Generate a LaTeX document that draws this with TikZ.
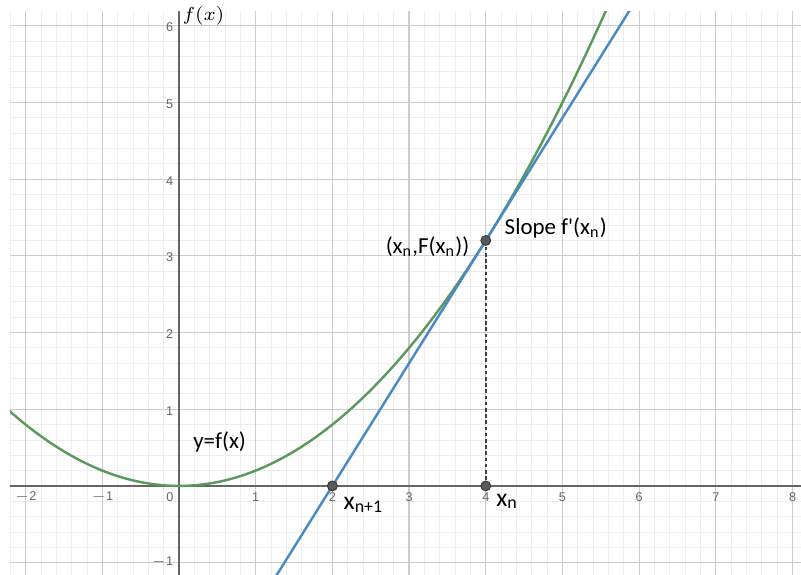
\documentclass[tikz,border=0pt]{standalone}
\usepackage{fontspec}
\setmainfont{Carlito}
\newfontfamily\tickfont{Liberation Sans}
\definecolor{curvegreen}{RGB}{92,152,92}
\definecolor{tanblue}{RGB}{74,137,200}
\begin{document}
\begin{tikzpicture}[x=1cm,y=1cm,
  minorgrid/.style={draw=black!7, line width=0.3pt},
  majorgrid/.style={draw=black!20, line width=0.45pt},
  axisline/.style={draw=black!60, line width=0.55pt},
  curve/.style={line width=0.9pt},
  ticklbl/.style={font=\tickfont\fontsize{4.7}{5}\selectfont, text=black!60, inner sep=0pt},
  lbl/.style={font=\fontsize{8.5}{10}\selectfont, inner sep=0pt},
  biglbl/.style={font=\fontsize{9.5}{11}\selectfont, inner sep=0pt},
  pt/.style={circle, fill=black!65, draw=black!80, line width=0.3pt, minimum size=0.13cm, inner sep=0pt}]
\useasboundingbox[fill=white] (-2.334,-1.16) rectangle (8.110,6.336);
\begin{scope}
\clip (-2.204,-1.16) rectangle (8.110,6.19);
\draw[minorgrid, step=0.2] (-2.4,-1.4) grid (8.4,6.4);
\draw[majorgrid, step=1] (-3,-2) grid (9,7);
\coordinate (xl) at (-2.204,0);
\coordinate (xr) at (8.11,0);
\coordinate (yb) at (0,-1.16);
\coordinate (yt) at (0,6.19);
\draw[axisline] (xl) -- (xr);
\draw[axisline] (yb) -- (yt);
\draw[curve, curvegreen] plot[domain=-2.3:5.7, samples=120] (\x, {0.2*\x*\x});
\coordinate (tb) at (1.2,-1.28);
\coordinate (tt) at (6.05,6.48);
\draw[curve, tanblue] (tb) -- (tt);
\end{scope}
% tick labels
\foreach \v in {-2,-1,1,2,3,4,5,6,7,8}{
  \node[ticklbl] (tx\v) at (\v,-0.15) {\ifnum\v<0 $-$\the\numexpr-\v\relax\else\v\fi};
}
\node[ticklbl] (tx0) at (-0.12,-0.15) {0};
\foreach \v in {1,2,3,4,5,6}{
  \node[ticklbl, anchor=east] (ty\v) at (-0.07,\v-0.02) {\v};
}
\node[ticklbl, anchor=east] (tym1) at (-0.07,-1) {$-$1};
% axis label
\node[font=\fontsize{7}{8}\selectfont, inner sep=0pt, anchor=west] (fx) at (0.04,6.13) {$f(x)$};
% points and dashed line
\coordinate (xnc) at (4,0);
\coordinate (Pc) at (4,3.2);
\draw[black!75, line width=0.55pt, dash pattern=on 1.3pt off 1pt] (xnc) -- (Pc);
\node[pt] (P) at (Pc) {};
\node[pt] (Xn) at (xnc) {};
\node[pt] (Xn1) at (2,0) {};
% labels
\node[lbl, anchor=west] (yfx) at (0.18,0.57) {y=f(x)};
\node[lbl] (plbl) at (3.24,3.12) {(x\textsubscript{n},F(x\textsubscript{n}))};
\node[lbl, anchor=west] (slope) at (4.24,3.36) {Slope f\textquotesingle(x\textsubscript{n})};
\node[biglbl, anchor=west] (xn1lbl) at (2.14,-0.25) {x\textsubscript{n+1}};
\node[biglbl, anchor=west] (xnlbl) at (4.13,-0.2) {x\textsubscript{n}};
\end{tikzpicture}
\end{document}
